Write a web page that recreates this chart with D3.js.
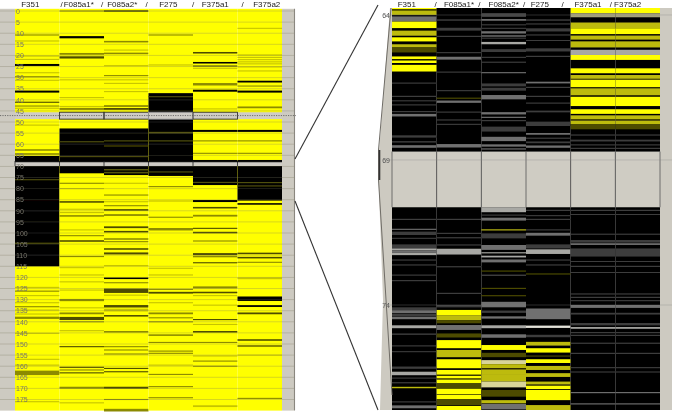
<!DOCTYPE html>
<html><head><meta charset="utf-8">
<script src="https://cdn.jsdelivr.net/npm/d3@7/dist/d3.min.js"></script>
<style>html,body{margin:0;padding:0;background:#fff}svg{display:block}text{font-family:"Liberation Sans",Arial,sans-serif}</style>
</head><body><div id="c"></div>
<script>
// ---------- DATA ----------
const samples = ["F351","F085a1*","F085a2*","F275","F375a1","F375a2"];
const overviewTicks = d3.range(0,180,5);
const detailTicks = [64,69,74];
const gapsOverview = [[45.6,48.7],[68,69.8]];
const gapDetail = [68.71,70.63];

// overview: solid black stretches per sample [startRow,endRow]
const blocks = {
 "F351":[[65.3,115]],
 "F085a1*":[[52.9,73.1]],
 "F085a2*":[[52.9,73.9]],
 "F275":[[37,74.3]],
 "F375a1":[[67.1,68],[69.8,78.4]],
 "F375a2":[[67.1,68],[69.8,85.4]]
};
// overview: thin stripes per sample [row,shade,thickness in rows]
const stripes = {
 "F351":[[10.8,"M"],[13.5,"L"],[20.3,"L"],[21.8,"L"],[24.3,"K",.9],[27.8,"L"],[29.6,"M"],[31.2,"L"],[36.3,"K",.9],[41.1,"D"],[42.8,"M"],[43.8,"L"],[51.4,"L"],[62.6,"M",.7],[64.4,"M",.7],[76,"O"],[104.6,"O"],
  [124.5,"L"],[126.2,"M"],[128.2,"L"],[131.4,"L"],[133.2,"M"],[134.7,"L"],[136.5,"L"],[138.2,"M",1],[145.2,"L"],[156.9,"L"],[159.5,"L"],[163,"M",2],[176,"L"]],
 "F085a1*":[[0,"M"],[11.8,"K",1],[19.3,"M",.8],[20.9,"D",1],[31,"L"],[39,"L"],[43,"L"],[44.1,"M",.9],[58.9,"O"],[65.6,"O"],
  [77.6,"M"],[80,"L"],[86,"D",.7],[89.3,"L"],[90.8,"L"],[92.3,"M",.7],[98.6,"L"],[101.2,"M"],[103.6,"D",.7],[110.6,"M"],[115.6,"L"],[118.9,"L"],
  [122,"L"],[125.7,"L"],[130.2,"M",1],[133.7,"L"],[136.2,"M",.8],[138.5,"D",1.4],[140,"M"],[144,"L"],[151.2,"D"],[160.5,"D"],[161.7,"M"],[163,"D"],[169.7,"M",.9],[176.5,"L"]],
 "F085a2*":[[0,"D",.7],[13.8,"M",.7],[17.6,"L"],[19.1,"M",.7],[24.6,"L"],[29.1,"M"],[31,"L"],[32.6,"L"],[36.3,"L"],[42.8,"M",.8],[44.1,"D",.8],[58.5,"O"],[60.8,"O"],[65.6,"O"],[71.5,"O",.7],[72.8,"O",.7],
  [77.6,"L"],[82.9,"M"],[85.9,"L"],[87.7,"M"],[89.6,"D",.7],[91.9,"M",.8],[97.4,"D",.8],[99.4,"D",.7],[102.7,"M",.7],[103.9,"M"],[107.2,"D",.7],[109.2,"D",.9],[114.7,"L"],[120.4,"K",.7],
  [122.4,"M"],[126,"D",2],[128,"L"],[133,"D",1.1],[134.7,"L",1.2],[137.3,"D",.7],[144.5,"M",.7],[151.2,"M"],[152.7,"M"],[154.5,"M"],[161,"D"],[162.5,"D"],[169.7,"D",.9],[175,"M"],[179.8,"M",1.2]],
 "F275":[[10.8,"M"],[24.3,"L"],[38.6,"O"],[54.8,"O",.7],[58.5,"O"],[72.5,"O"],
  [79.1,"M"],[85.6,"L"],[92.9,"M"],[98.3,"M",1.1],[115.9,"L"],[118.9,"L"],
  [125.4,"M"],[126.9,"D",.8],[131.4,"L"],[136.2,"M",.8],[138.2,"M"],[140,"M"],[146,"M",.7],[149.3,"M"],[153.2,"M"],[154.2,"M"],[159.5,"L"],[163.7,"M"],[169.2,"M"],[174.2,"M"]],
 "F375a1":[[18.8,"D",.7],[23.3,"K",.7],[24.8,"M",.8],[25.8,"L"],[33,"M",1.1],[35.9,"K",.9],[44.1,"L"],[54,"K",.9],[58.5,"M"],[64.1,"M"],[77.2,"O"],
  [85.6,"K",.9],[88.6,"D",.7],[92.2,"M",.8],[97.9,"D"],[99.8,"D",.7],[103.6,"M"],[109.5,"D",.9],[110.6,"M",.7],[113.4,"D"],
  [124.5,"M",.9],[126.8,"D",.7],[128.2,"L"],[132.5,"L"],[139,"D"],[141.2,"L"],[144.5,"D",.7],[149.3,"M"],[155.4,"L"],[157.7,"M"],[160,"M"],[178,"L",.8]],
 "F375a2":[[7.8,"L"],[19.8,"L"],[20.9,"L"],[21.9,"L"],[22.9,"L"],[23.8,"L"],[25.2,"L"],[27,"L"],[31.8,"K",.8],[33.8,"M"],[36.3,"K",.9],[43.4,"M",.8],[54,"K",.9],[58.5,"M"],[64.1,"M"],[77.3,"O"],[78.8,"O"],
  [86.9,"K",.7],[109.2,"D",.7],[111.1,"D",.7],[113.2,"M"],[120.4,"L",.8],
  [129.6,"K",2],[132.9,"K",.8],[136.2,"D",.8],[148.2,"D",.7],[150.9,"M",.9],[155,"L"],[174.5,"M"]]
};

// zoomed detail: base colour of each stretch and stripes [startRow,endRow,shade]
const detail351 = [[63.76,63.8,"Y"],[63.8,63.85,"D"],[63.85,64,"P"],[64,64.05,"K"],[64.05,64.23,"G"],[64.23,64.46,"Y"],[64.46,64.54,"K"],[64.54,64.72,"P"],[64.72,64.77,"K"],[64.77,64.92,"Y"],[64.92,65.01,"K"],[65.01,65.12,"P"],[65.12,65.3,"D"],[65.3,65.43,"K"],[65.43,65.53,"Y"],[65.53,65.57,"K"],[65.57,65.66,"Y"],[65.66,65.72,"K"],[65.72,65.95,"Y"],
 [66.33,66.37,"E"],[66.79,66.83,"E"],[66.94,66.98,"E"],[67.08,67.12,"E"],[67.31,67.35,"E"],[67.41,67.5,"G"],[68.15,68.23,"E"],[68.35,68.4,"E"],[68.49,68.58,"G"],
 [71.03,71.07,"E"],[71.37,71.41,"G"],[71.47,71.59,"E"],[71.68,71.72,"E"],[71.91,72.05,"E"],[72.05,72.12,"H"],[72.12,72.2,"G"],[72.2,72.28,"H"],[72.43,72.47,"E"],[72.6,72.64,"E"],[72.95,72.99,"E"],[73.14,73.18,"E"],
 [74.08,74.18,"E"],[74.18,74.28,"G"],[74.3,74.38,"E"],[74.4,74.49,"G"],[74.7,74.8,"H"],[74.98,75.03,"E"],[75.39,75.43,"E"],[75.59,75.63,"E"],[76.12,76.2,"E"],[76.3,76.42,"H"],[76.5,76.54,"E"],[76.66,76.7,"E"],[76.82,76.87,"P"],[77.32,77.36,"E"],[77.46,77.56,"G"]];
const detail085a1 = [[64.15,64.2,"E"],[64.44,64.54,"E"],[64.72,64.76,"E"],[65.28,65.32,"E"],[65.44,65.54,"G"],[65.95,65.99,"E"],[66.59,66.63,"E"],[66.85,66.89,"D"],[66.95,67.03,"G"],[67.33,67.37,"E"],[67.6,67.64,"E"],[67.75,67.79,"E"],[68.45,68.57,"G"],
 [71.03,71.07,"E"],[71.51,71.55,"E"],[71.66,71.7,"E"],[71.91,71.95,"E"],[72.06,72.26,"H"],[72.66,72.7,"E"],[73.58,73.62,"E"],[74,74.08,"E"],
 [74.17,74.35,"Y"],[74.35,74.52,"P"],[74.52,74.63,"D"],[74.69,74.86,"G"],[74.98,75.12,"D"],[75.21,75.49,"Y"],[75.55,75.8,"P"],[75.87,76.18,"Y"],[76.24,76.4,"Y"],[76.44,76.53,"Y"],[76.57,76.7,"Y"],[76.72,76.89,"D"],[76.89,77.08,"Y"],[77.1,77.25,"Y"],[77.25,77.45,"D"],[77.48,77.62,"Y"]];
const detail085a2 = [[63.93,64.07,"E"],[64.14,64.2,"G"],[64.32,64.36,"E"],[64.44,64.48,"E"],[64.56,64.64,"G"],[64.7,64.75,"G"],[64.78,64.82,"E"],[64.93,65.01,"H"],[65.18,65.28,"E"],[65.44,65.48,"E"],[65.61,65.65,"E"],[65.97,66.01,"G"],[66.36,66.46,"E"],[66.51,66.61,"E"],[66.76,66.91,"G"],[67.35,67.43,"G"],[67.51,67.55,"G"],[67.62,67.66,"E"],[67.85,68.02,"E"],[68.2,68.35,"G"],[68.46,68.54,"G"],[68.6,68.64,"G"],
 [70.63,70.8,"H"],[70.88,70.92,"E"],[70.99,71.09,"G"],[71.39,71.43,"P"],[71.53,71.7,"E"],[71.93,72.1,"G"],[72.18,72.22,"H"],[72.3,72.36,"H"],[72.43,72.53,"G"],[72.81,72.85,"D"],[72.95,73,"E"],[73.41,73.45,"D"],[73.66,73.7,"D"],[73.89,74.08,"G"],[74.19,74.27,"E"],[74.39,74.47,"G"],[74.7,74.8,"H"],[75.01,75.13,"G"],
 [75.38,75.55,"Y"],[75.65,75.8,"D"],[75.9,76.04,"Q"],[76.04,76.18,"P"],[76.22,76.38,"P"],[76.38,76.64,"P"],[76.64,76.84,"Q"],[76.93,77.16,"D"],[77.28,77.39,"P"],[77.41,77.6,"G"]];
const detail275 = [[64.15,64.2,"E"],[64.29,64.33,"E"],[64.46,64.57,"E"],[64.67,64.71,"E"],[64.86,64.9,"E"],[65.15,65.26,"E"],[65.41,65.45,"E"],[66.3,66.36,"G"],[66.48,66.52,"E"],[66.79,66.83,"E"],[67.02,67.06,"E"],[67.3,67.36,"E"],[67.68,67.83,"E"],[68.07,68.13,"G"],[68.23,68.27,"E"],[68.36,68.42,"E"],[68.5,68.58,"G"],
 [70.72,70.76,"E"],[70.9,70.94,"E"],[71.03,71.07,"E"],[71.39,71.43,"E"],[71.51,71.61,"G"],[71.91,72.05,"E"],[72.08,72.24,"H"],[72.43,72.47,"E"],[72.6,72.64,"E"],[72.91,72.95,"D"],
 [74.12,74.49,"G"],[74.71,74.79,"W"],[75.03,75.11,"E"],[75.27,75.4,"P"],[75.49,75.64,"Y"],[75.74,75.78,"D"],[75.87,76,"Y"],[76.1,76.24,"P"],[76.35,76.48,"P"],[76.64,76.74,"P"],[76.78,76.9,"Y"],[76.93,77.28,"Y"],[77.45,77.62,"P"]];
const detail375 = [[63.76,63.94,"Y"],[63.94,64.08,"T"],[64.26,64.46,"P"],[64.46,64.66,"Y"],[64.71,64.85,"P"],[64.91,65.12,"P"],[65.38,65.55,"Y"],[65.2,65.38,"H"],[65.84,66.01,"Y"],[66.07,66.2,"P"],[66.23,66.49,"Y"],[66.53,66.77,"P"],[66.82,67.14,"Y"],[67.25,67.41,"Y"],[67.46,67.6,"P"],[67.64,67.76,"P"],[67.76,67.94,"D"],
 [68.12,68.16,"E"],[68.3,68.36,"E"],[68.46,68.5,"E"],[68.58,68.62,"E"],
 [70.72,70.76,"E"],[70.86,70.9,"E"],[71.54,71.58,"E"],[71.76,71.85,"E"],[71.87,71.93,"G"],[72.05,72.33,"E"],[72.48,72.52,"E"],[72.65,72.69,"E"],[72.86,72.9,"E"],[73.6,73.64,"E"],[73.72,73.76,"E"],[73.83,73.87,"E"],[74,74.1,"G"],[74.27,74.33,"E"],[74.62,74.7,"E"],[74.76,74.82,"H"],[74.93,74.97,"E"],[75.03,75.07,"E"],[75.3,75.34,"E"],[75.65,75.69,"E"],[76.14,76.18,"E"],[76.29,76.33,"E"],[77,77.04,"G"],[77.39,77.43,"G"]];
const detailBySample = {"F351":detail351,"F085a1*":detail085a1,"F085a2*":detail085a2,"F275":detail275,"F375a1":detail375,"F375a2":detail375};

// ---------- LAYOUT ----------
const W=675,H=413;
const svg=d3.select("#c").append("svg").attr("width",W).attr("height",H);
svg.append("defs").append("filter").attr("id","soft").append("feGaussianBlur").attr("stdDeviation",0.55);
const root=svg.append("g").attr("filter","url(#soft)");
const shade=d3.scaleOrdinal().domain(["Y","L","M","D","K","O","P","Q","T","E","G","H","W"])
 .range(["#ffff00","#c6c400","#8c8a00","#4d4c00","#000000","#55540c","#bdbb10","#d8d49a","#a5a27a","#3e3e3e","#6f6f6f","#a8a8a4","#e4e2da"]);
const gutter="#cdcac1", yel="#ffff00";

const xL=d3.scaleBand().domain(samples).range([15,282]);
const yL=d3.scaleLinear().domain([-1,180]).range([8.8,410.6]);
const xR=d3.scaleBand().domain(samples).range([392,660]);
const yR=d3.scaleLinear().domain([63.76,77.62]).range([8,410]);

// gutters
root.append("rect").attr("x",0).attr("y",yL(-1)).attr("width",xL.range()[0]).attr("height",yL(180)-yL(-1)).attr("fill",gutter);
root.append("rect").attr("x",xL.range()[1]).attr("y",yL(-1)).attr("width",12).attr("height",yL(180)-yL(-1)).attr("fill",gutter);
root.append("rect").attr("x",xR.range()[1]).attr("y",yR(63.76)).attr("width",12).attr("height",402).attr("fill",gutter);
root.append("path").attr("d",`M390,8L392,8L392,410L380,410L383,300L378,165Z`).attr("fill",gutter);

// overview columns
const colsL=root.selectAll("g.l").data(samples).join("g").attr("class","l").attr("transform",d=>`translate(${xL(d)},0)`);
colsL.append("rect").attr("y",yL(-1)).attr("width",xL.bandwidth()).attr("height",yL(180)-yL(-1)).attr("fill",yel);
colsL.selectAll("rect.b").data(d=>blocks[d]).join("rect").attr("class","b")
 .attr("y",d=>yL(d[0])).attr("height",d=>yL(d[1])-yL(d[0])).attr("width",xL.bandwidth()).attr("fill","#000");
colsL.selectAll("rect.s").data(d=>stripes[d]).join("rect").attr("class","s")
 .attr("y",d=>yL(d[0])-(yL(1)-yL(0))*(d[2]||.5)/2)
 .attr("height",d=>(yL(1)-yL(0))*(d[2]||.5)).attr("width",xL.bandwidth()).attr("fill",d=>shade(d[1]));

// gridlines every five rows
root.selectAll("line.g").data(overviewTicks).join("line").attr("class","g")
 .attr("x1",0).attr("x2",xL.range()[1]+12).attr("y1",d=>yL(d)).attr("y2",d=>yL(d))
 .attr("stroke","#77745a").attr("stroke-opacity",.32).attr("stroke-width",.9);

// gaps in overview
gapsOverview.forEach(g=>{
 root.append("rect").attr("x",xL.range()[0]).attr("width",xL.range()[1]-xL.range()[0]).attr("y",yL(g[0])).attr("height",yL(g[1])-yL(g[0])).attr("fill","#cfccc6");
});
root.selectAll("rect.sel").data(samples.slice(1,5)).join("rect").attr("class","sel")
 .attr("x",d=>xL(d)).attr("width",xL.bandwidth()).attr("y",yL(gapsOverview[0][0])).attr("height",yL(gapsOverview[0][1])-yL(gapsOverview[0][0]))
 .attr("fill","none").attr("stroke",(d,i)=>i===2?"#999":"#333").attr("stroke-width",.9);
root.append("line").attr("x1",0).attr("x2",296).attr("y1",yL(47.1)).attr("y2",yL(47.1)).attr("stroke","#555").attr("stroke-width",.8).attr("stroke-dasharray","1.2 1.2");
root.selectAll("line.sep").data(samples).join("line").attr("class","sep")
 .attr("x1",d=>xL(d)).attr("x2",d=>xL(d)).attr("y1",yL(gapsOverview[1][0])-1).attr("y2",yL(gapsOverview[1][1])).attr("stroke","#333").attr("stroke-width",.9);
root.append("line").attr("x1",15).attr("x2",282).attr("y1",yL(67.9)).attr("y2",yL(67.9)).attr("stroke","#111").attr("stroke-width",1);
root.append("line").attr("x1",294.5).attr("x2",294.5).attr("y1",yL(-1)).attr("y2",yL(180)).attr("stroke","#8a877f").attr("stroke-width",1.1);

// overview axis
const axL=root.append("g").attr("transform","translate(14,0)").call(d3.axisLeft(yL).tickValues(overviewTicks).tickSize(0).tickPadding(1));
axL.select(".domain").remove();
axL.selectAll("text").attr("fill","#77756c").attr("font-size",7).attr("text-anchor","start").attr("x",2);

// detail columns
const colsR=root.selectAll("g.r").data(samples).join("g").attr("class","r").attr("transform",d=>`translate(${xR(d)},0)`);
colsR.append("rect").attr("y",yR(63.76)).attr("height",402).attr("width",xR.bandwidth()).attr("fill","#000");
colsR.selectAll("rect.s").data(d=>detailBySample[d]).join("rect").attr("class","s")
 .attr("y",d=>yR(d[0])).attr("height",d=>Math.max(1,yR(d[1])-yR(d[0]))).attr("width",xR.bandwidth()).attr("fill",d=>shade(d[2]));
colsR.append("rect").attr("y",yR(gapDetail[0])).attr("height",yR(gapDetail[1])-yR(gapDetail[0])).attr("width",xR.bandwidth()).attr("fill","#cfccc3");
root.selectAll("line.rsep").data(samples.concat("end")).join("line").attr("class","rsep")
 .attr("x1",d=>d==="end"?660:xR(d)).attr("x2",d=>d==="end"?660:xR(d))
 .attr("y1",yR(gapDetail[0])).attr("y2",yR(gapDetail[1])).attr("stroke","#555").attr("stroke-width",.8);
root.selectAll("line.rgrid").data(detailTicks).join("line").attr("class","rgrid")
 .attr("x1",384).attr("x2",672).attr("y1",d=>yR(d)).attr("y2",d=>yR(d)).attr("stroke","#888").attr("stroke-opacity",.4).attr("stroke-width",.8);

// detail axis
const axR=root.append("g").attr("transform","translate(391,0)").call(d3.axisLeft(yR).tickValues(detailTicks).tickSize(0).tickPadding(1));
axR.select(".domain").remove();
axR.selectAll("text").attr("fill","#555").attr("font-size",7);

// zoom connectors and gutter edge
const edge=[[391,8],[378.5,150],[378.5,180],[392,395]];
root.append("path").attr("d",d3.line()(edge)).attr("fill","none").attr("stroke","#6f6c66").attr("stroke-width",1);
root.append("line").attr("x1",379.5).attr("x2",379.5).attr("y1",150).attr("y2",180).attr("stroke","#333").attr("stroke-width",1.6);
const conn=[[[295,159],[378,5]],[[295,201],[378,410]]];
root.selectAll("path.conn").data(conn).join("path").attr("class","conn").attr("d",d3.line()).attr("fill","none").attr("stroke","#333").attr("stroke-width",1.1);

// headers: the captions run as one spaced string, so they drift from the column centres
function headers(scale,nameShift,slashShift){
 const g=root.append("g");
 g.selectAll("text.n").data(samples).join("text").attr("class","n")
  .attr("x",(d,i)=>scale(d)+scale.bandwidth()/2+nameShift[i]).attr("y",7).attr("text-anchor","middle")
  .attr("font-size",8).attr("fill","#222").text(d=>d);
 g.selectAll("text.sl").data(samples.slice(1)).join("text").attr("class","sl")
  .attr("x",(d,i)=>scale(d)+slashShift[i]).attr("y",7).attr("text-anchor","middle")
  .attr("font-size",8).attr("fill","#222").text("/");
}
headers(xL,[-7,-3,-4,-2.5,0,7],[2,-2,-2,0,5]);
headers(xR,[-7.5,0,0,-8.5,-5,-10],[-1,-2,-2,-8,-4.5]);
</script></body></html>
